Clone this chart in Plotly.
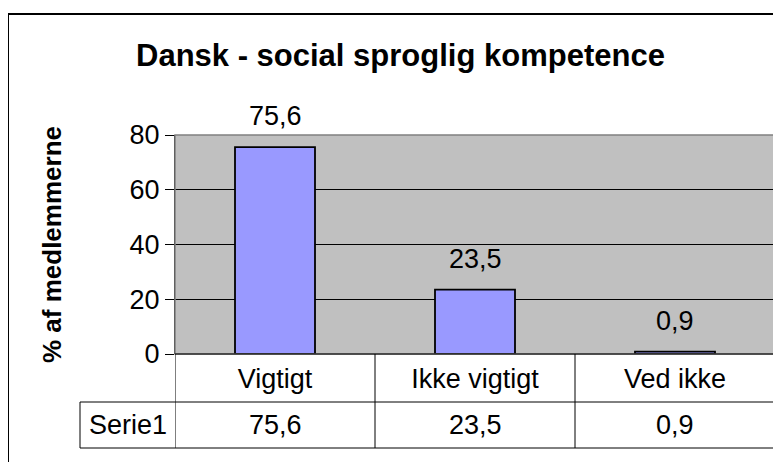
import plotly.graph_objects as go

categories = ['Vigtigt', 'Ikke vigtigt', 'Ved ikke']
values = [75.6, 23.5, 0.9]
series_name = 'Serie1'
y_ticks = [0, 20, 40, 60, 80]

W, H = 781, 462
OFF = 8  # page body margin
# plot area in screenshot pixels: x 175..775, y 135..354
L = 175 - OFF
R = W - (775 - OFF)
T = 135 - OFF
B = H - (354 - OFF)
plot_h = H - T - B
plot_w = W - L - R
font = 'Liberation Sans, Arial, sans-serif'


def py(px):
    # screenshot pixel row -> paper y
    return (354 - px) / plot_h


def pxx(px):
    # screenshot pixel column -> paper x
    return (px - 175) / plot_w


def fmt(v):
    return f'{v:.1f}'.replace('.', ',')


fig = go.Figure()
fig.add_trace(go.Bar(
    x=categories,
    y=values,
    width=0.4,
    marker=dict(color='#9999FF', line=dict(color='black', width=1.8)),
    hoverinfo='skip',
    showlegend=False,
))

annotations = []
# data labels
for c, v in zip(categories, values):
    annotations.append(dict(x=c, y=v, xref='x', yref='y', text=fmt(v),
                            showarrow=False, yanchor='bottom', yshift=14,
                            font=dict(family=font, size=27, color='black')))
# data table: series row
row_y = (py(402) + py(448)) / 2
annotations.append(dict(x=pxx(127.5), y=row_y, xref='paper', yref='paper',
                        text=series_name, showarrow=False,
                        xanchor='center', yanchor='middle',
                        font=dict(family=font, size=27, color='black')))
for c, v in zip(categories, values):
    annotations.append(dict(x=c, y=row_y, xref='x', yref='paper',
                            text=fmt(v), showarrow=False,
                            xanchor='center', yanchor='middle',
                            font=dict(family=font, size=27, color='black')))
# y axis title
annotations.append(dict(x=pxx(52), y=py(245), xref='paper', yref='paper',
                        text='<b>% af medlemmerne</b>', textangle=-90, showarrow=False,
                        xanchor='center', yanchor='middle',
                        font=dict(family=font, size=26, color='black')))
# chart title
annotations.append(dict(x=pxx(400), y=py(55), xref='paper', yref='paper',
                        text='<b>Dansk - social sproglig kompetence</b>', showarrow=False,
                        xanchor='center', yanchor='middle',
                        font=dict(family=font, size=31, color='black')))

shapes = []
# outer chart frame
shapes.append(dict(type='rect', xref='paper', yref='paper',
                   x0=pxx(8), x1=1.3, y0=-1, y1=py(14),
                   line=dict(color='black', width=2)))
# plot area border (gray)
shapes.append(dict(type='rect', xref='paper', yref='paper', x0=0, x1=1, y0=0, y1=1,
                   line=dict(color='#808080', width=1.5)))
# data table lines
line = dict(color='black', width=1)
x_left = pxx(80)
for yy in [py(402), py(448)]:
    shapes.append(dict(type='line', xref='paper', yref='paper', x0=x_left, x1=1,
                       y0=yy, y1=yy, line=line))
shapes.append(dict(type='line', xref='paper', yref='paper', x0=0, x1=1,
                   y0=0, y1=0, line=line))
shapes.append(dict(type='line', xref='paper', yref='paper', x0=x_left, x1=x_left,
                   y0=py(402), y1=py(448), line=line))
for xx in [-0.5, 0.5, 1.5, 2.5]:
    shapes.append(dict(type='line', xref='x', yref='paper', x0=xx, x1=xx,
                       y0=0, y1=py(448), line=line))

fig.update_layout(
    width=W, height=H,
    margin=dict(l=L, r=R, t=T, b=B),
    paper_bgcolor='white',
    plot_bgcolor='#C0C0C0',
    xaxis=dict(range=[-0.5, 2.5], showgrid=False, ticks='', showline=False,
               tickfont=dict(family=font, size=27, color='black'),
               ticklabelstandoff=6, fixedrange=True),
    yaxis=dict(range=[0, 80], tickvals=y_ticks, showgrid=True, gridcolor='black',
               gridwidth=1, zeroline=False, showline=True, linecolor='black',
               ticks='outside', ticklen=9, tickcolor='black',
               tickfont=dict(family=font, size=27, color='black'), fixedrange=True),
    annotations=annotations,
    shapes=shapes,
    bargap=0.6,
)

fig.write_html('out.html')
